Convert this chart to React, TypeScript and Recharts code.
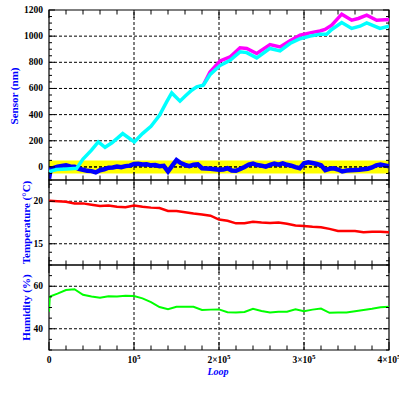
import React from 'react';
import { LineChart, Line, XAxis, YAxis, ReferenceLine, ReferenceArea } from 'recharts';

// ---------- data (loop values in thousands) ----------
const blueLoopK = [0, 2, 5, 10, 15, 20, 25, 30, 35, 40, 45, 50, 55, 60, 65, 70, 75, 80, 85, 90, 95, 100, 105, 110, 115, 120, 125, 130, 135, 140, 145, 150, 155, 160, 165, 170, 175, 180, 185, 190, 195, 200, 205, 210, 215, 220, 225, 230, 235, 240, 245, 250, 255, 260, 265, 270, 275, 280, 285, 290, 295, 300, 305, 310, 315, 320, 325, 330, 335, 340, 345, 350, 355, 360, 365, 370, 375, 380, 385, 390, 395, 400];
const blueNm = [-90, -18, -8, 2, 8, 12, 4, 2, -14, -22, -30, -32, -42, -25, -18, -6, -4, 3, -2, 6, 10, 22, 24, 18, 20, 12, 14, 6, 8, -35, 10, 52, 30, 16, 6, 16, 20, -10, -12, -14, -18, -22, -20, -10, -28, -30, -16, 0, 18, 25, 14, 10, 2, 16, 26, 18, 27, 16, 10, -2, -10, 28, 36, 30, 22, 13, -24, -14, -10, -20, -34, -28, -26, -24, -22, -18, -14, -4, 12, 18, 12, 5];

const cyanLoopK = [0, 9, 21, 32.6, 40, 50, 58, 65.9, 74.1, 86.7, 100.4, 110, 120, 130, 138.4, 144.4, 154.1, 160, 167.9, 173.8, 181.5, 189.4, 201.2, 213, 224.7, 232.6, 244.4, 260, 271.8, 283.5, 295.3, 307.1, 318.8, 326.7, 332.6, 344.4, 356.1, 365.9, 373.8, 389.4, 400];
const cyanNm = [-35, -20, -15, -10, 60, 128, 191, 150, 185, 255, 191, 255, 311, 395, 497, 566, 503, 541, 587, 612, 625, 705, 775, 816, 880, 874, 834, 906, 887, 944, 980, 1000, 1015, 1015, 1051, 1104, 1059, 1076, 1101, 1059, 1076];

const magentaLoopK = [181.5, 189.4, 201.2, 213, 224.7, 232.6, 244.4, 260, 271.8, 283.5, 295.3, 307.1, 318.8, 324.7, 332.6, 344.4, 356.1, 363.9, 373.8, 385.5, 400];
const magentaNm = [625, 725, 810, 841, 911, 906, 867, 936, 918, 964, 1007, 1025, 1040, 1051, 1084, 1168, 1122, 1135, 1160, 1122, 1127];

const tempLoopK = [0, 10, 20, 30, 40, 50, 60, 70, 80, 90, 100, 110, 120, 130, 140, 150, 160, 170, 180, 190, 200, 210, 220, 230, 240, 250, 260, 270, 280, 290, 300, 310, 320, 330, 340, 350, 360, 370, 380, 390, 400];
const tempC = [20.05, 20.0, 19.95, 19.75, 19.75, 19.6, 19.45, 19.5, 19.35, 19.3, 19.5, 19.35, 19.25, 19.2, 18.85, 18.85, 18.7, 18.55, 18.45, 18.3, 17.85, 17.7, 17.4, 17.4, 17.6, 17.5, 17.45, 17.5, 17.35, 17.15, 17.1, 17.0, 16.95, 16.75, 16.5, 16.5, 16.5, 16.35, 16.4, 16.4, 16.35];

const humLoopK = [0, 1, 10, 20, 30, 40, 50, 60, 70, 80, 90, 100, 110, 120, 130, 140, 150, 160, 170, 180, 190, 200, 210, 220, 230, 240, 250, 260, 270, 280, 290, 300, 310, 320, 330, 340, 350, 360, 370, 380, 390, 400];
const humPct = [48, 55.2, 56.5, 58.2, 58.6, 56.0, 55.2, 54.6, 55.3, 55.2, 55.5, 55.4, 54.3, 52.5, 50.2, 49.2, 50.3, 50.3, 50.3, 48.8, 49.0, 49.1, 47.8, 47.6, 47.9, 49.4, 48.4, 47.7, 48.0, 48.0, 49.2, 48.2, 49.0, 49.5, 47.5, 47.6, 47.6, 48.2, 48.8, 49.4, 50.1, 50.4];

const xMajorLoops = [0, 100000, 200000, 300000, 400000];
const xMajorLabels = ['0', '10^5', '2×10^5', '3×10^5', '4×10^5'];

const toRows = (loopK: number[], vals: number[]) => loopK.map((k, i) => ({ x: k * 1000, y: vals[i] }));

// ---------- style ----------
const W = 399;
const H = 399;
const PLOT_L = 49;
const PLOT_R = 389;
const X_MAX = 400000;
const FONT = '"Liberation Serif", "DejaVu Serif", serif';
const BLUE = '#0000ff';
const DASH = '3 2';

const range = (a: number, b: number, s: number) => {
  const out: number[] = [];
  for (let v = a; v <= b + 1e-9; v += s) out.push(Math.round(v * 1000) / 1000);
  return out;
};
const isMult = (v: number, m: number) => Math.abs(v / m - Math.round(v / m)) < 1e-6;

const xTicks = range(0, X_MAX, 20000);

const LeftLabel = (major: number) => (props: any) => {
  const { x, y, payload } = props;
  const v = payload.value;
  if (!isMult(v, major)) return <g />;
  return (
    <text x={Number(x) - 6} y={Number(y)} textAnchor="end" dominantBaseline="central" fontFamily={FONT} fontSize={9.5} fontWeight="bold" fill="#000">
      {v}
    </text>
  );
};

const BottomLabel = (props: any) => {
  const { x, y, payload } = props;
  const v = payload.value;
  const idx = xMajorLoops.indexOf(v);
  if (idx < 0) return <g />;
  const parts = xMajorLabels[idx].split('^');
  return (
    <text x={Number(x)} y={Number(y) + 13} textAnchor="middle" fontFamily={FONT} fontSize={9.5} fontWeight="bold" fill="#000">
      {parts[0]}
      {parts[1] && (
        <tspan dy={-4} fontSize={7}>
          {parts[1]}
        </tspan>
      )}
    </text>
  );
};

type PanelProps = {
  top: number;
  bottom: number;
  domain: [number, number];
  yTicks: number[];
  yMajor: number;
  gridY: number[];
  showXLabels: boolean;
  children: React.ReactNode;
};

const tickMarks = (domain: [number, number], top: number, bottom: number, yTicks: number[], yMajor: number) => {
  const xPerPx = X_MAX / (PLOT_R - PLOT_L);
  const yPerPx = (domain[1] - domain[0]) / (bottom - top);
  const out: React.ReactNode[] = [];
  xTicks.forEach((v) => {
    const len = (isMult(v, 100000) ? 8 : 4.5) * yPerPx;
    out.push(
      <ReferenceLine key={'xb' + v} xAxisId="b" yAxisId="l" ifOverflow="visible" stroke="#000" segment={[{ x: v, y: domain[0] }, { x: v, y: domain[0] + len }]} />,
      <ReferenceLine key={'xt' + v} xAxisId="b" yAxisId="l" ifOverflow="visible" stroke="#000" segment={[{ x: v, y: domain[1] }, { x: v, y: domain[1] - len }]} />
    );
  });
  yTicks.forEach((v) => {
    const len = (isMult(v, yMajor) ? 6 : 3) * xPerPx;
    out.push(
      <ReferenceLine key={'yl' + v} xAxisId="b" yAxisId="l" ifOverflow="visible" stroke="#000" segment={[{ x: 0, y: v }, { x: len, y: v }]} />,
      <ReferenceLine key={'yr' + v} xAxisId="b" yAxisId="l" ifOverflow="visible" stroke="#000" segment={[{ x: X_MAX, y: v }, { x: X_MAX - len, y: v }]} />
    );
  });
  return out;
};

const Panel = ({ top, bottom, domain, yTicks, yMajor, gridY, showXLabels, children }: PanelProps) => {
  const xAxisH = showXLabels ? 30 : 0;
  return (
    <div style={{ position: 'absolute', left: 0, top: 0 }}>
      <LineChart width={W} height={H} margin={{ top: top, right: W - PLOT_R, bottom: H - bottom - xAxisH, left: 0 }}>
        <XAxis
          xAxisId="b"
          dataKey="x"
          type="number"
          domain={[0, X_MAX]}
          ticks={xTicks}
          interval={0}
          allowDataOverflow
          orientation="bottom"
          height={30}
          hide={!showXLabels}
          tickSize={0}
          tickMargin={0}
          tickLine={false}
          axisLine={false}
          tick={BottomLabel}
        />
        <YAxis
          yAxisId="l"
          type="number"
          domain={domain}
          ticks={yTicks}
          interval={0}
          allowDataOverflow
          orientation="left"
          width={PLOT_L}
          tickSize={0}
          tickMargin={0}
          tickLine={false}
          axisLine={false}
          tick={LeftLabel(yMajor)}
        />
        {[100000, 200000, 300000].map((v) => (
          <ReferenceLine key={'vx' + v} xAxisId="b" yAxisId="l" x={v} stroke="#000" strokeDasharray={DASH} />
        ))}
        {gridY.map((v) => (
          <ReferenceLine key={'hy' + v} xAxisId="b" yAxisId="l" y={v} stroke="#000" strokeDasharray={DASH} />
        ))}
        {children}
        {tickMarks(domain, top, bottom, yTicks, yMajor)}
        <ReferenceArea xAxisId="b" yAxisId="l" x1={0} x2={X_MAX} y1={domain[0]} y2={domain[1]} ifOverflow="visible" fill="none" fillOpacity={0} stroke="#000" strokeWidth={1.2} />
      </LineChart>
    </div>
  );
};

export default function App() {
  return (
    <div style={{ position: 'absolute', left: 0, top: 0, width: W, height: H, background: '#fff', overflow: 'hidden' }}>
      {/* Panel 1: sensor */}
      <Panel top={10} bottom={180} domain={[-100, 1200]} yTicks={range(-100, 1200, 50)} yMajor={200} gridY={[0, 200, 400, 600, 800, 1000]} showXLabels={false}>
        <ReferenceArea xAxisId="b" yAxisId="l" x1={0} x2={X_MAX} y1={-50} y2={50} fill="#ffff00" fillOpacity={1} stroke="none" />
        <ReferenceLine xAxisId="b" yAxisId="l" y={0} stroke="#000" strokeDasharray={DASH} />
        <Line xAxisId="b" yAxisId="l" data={toRows(blueLoopK, blueNm)} dataKey="y" stroke={BLUE} strokeWidth={4.5} dot={false} isAnimationActive={false} type="linear" />
        <Line xAxisId="b" yAxisId="l" data={toRows(magentaLoopK, magentaNm)} dataKey="y" stroke="#ff00ff" strokeWidth={3.5} dot={false} isAnimationActive={false} type="linear" />
        <Line xAxisId="b" yAxisId="l" data={toRows(cyanLoopK, cyanNm)} dataKey="y" stroke="#00ffff" strokeWidth={3.5} dot={false} isAnimationActive={false} type="linear" />
      </Panel>
      {/* Panel 2: temperature */}
      <Panel top={180} bottom={265} domain={[12.5, 22.5]} yTicks={range(13, 22, 1)} yMajor={5} gridY={[15, 20]} showXLabels={false}>
        <Line xAxisId="b" yAxisId="l" data={toRows(tempLoopK, tempC)} dataKey="y" stroke="#ff0000" strokeWidth={2.5} dot={false} isAnimationActive={false} type="linear" />
      </Panel>
      {/* Panel 3: humidity */}
      <Panel top={265} bottom={350} domain={[30, 70]} yTicks={range(30, 70, 5)} yMajor={20} gridY={[40, 60]} showXLabels={true}>
        <Line xAxisId="b" yAxisId="l" data={toRows(humLoopK, humPct)} dataKey="y" stroke="#00ff00" strokeWidth={2} dot={false} isAnimationActive={false} type="linear" />
      </Panel>
      {/* axis titles */}
      <svg width={W} height={H} style={{ position: 'absolute', left: 0, top: 0, pointerEvents: 'none' }}>
        <text x={14} y={96} transform="rotate(-90 14 96)" textAnchor="middle" dominantBaseline="central" fontFamily={FONT} fontSize={11} fontWeight="bold" fill={BLUE}>
          Sensor (nm)
        </text>
        <text x={26} y={222.5} transform="rotate(-90 26 222.5)" textAnchor="middle" dominantBaseline="central" fontFamily={FONT} fontSize={11} fontWeight="bold" fill={BLUE}>
          Temperature (°C)
        </text>
        <text x={26} y={307.5} transform="rotate(-90 26 307.5)" textAnchor="middle" dominantBaseline="central" fontFamily={FONT} fontSize={11} fontWeight="bold" fill={BLUE}>
          Humidity (%)
        </text>
        <text x={218} y={375} textAnchor="middle" fontFamily={FONT} fontSize={10} fontWeight="bold" fontStyle="italic" fill={BLUE}>
          Loop
        </text>
      </svg>
    </div>
  );
}
